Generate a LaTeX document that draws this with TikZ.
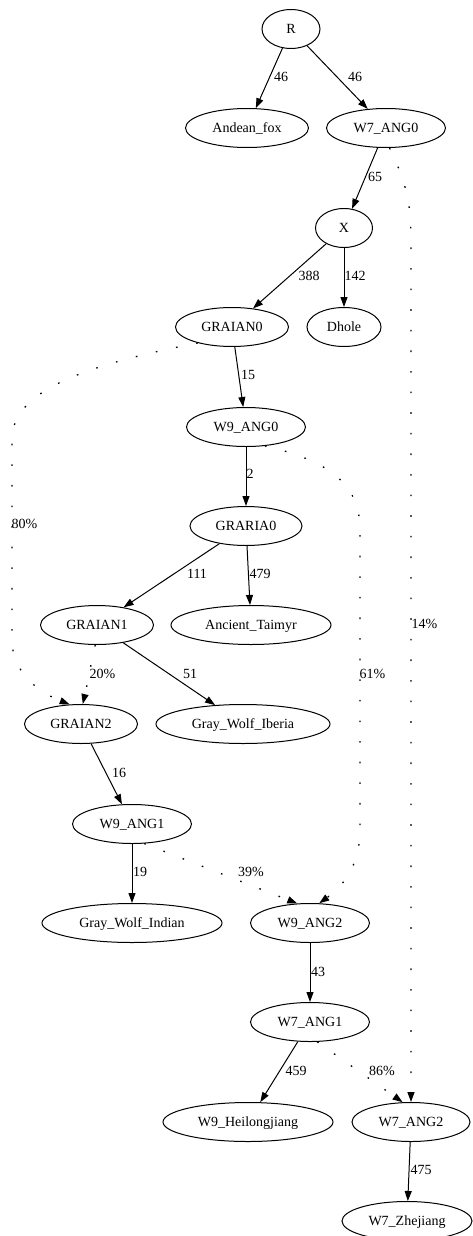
\documentclass[tikz,border=0pt]{standalone}
\usepackage{fontspec}
\setmainfont{Liberation Serif}
\usetikzlibrary{shapes.geometric,arrows.meta}
\begin{document}
\begin{tikzpicture}[x=1pt,y=-1pt,
  nd/.style={ellipse,draw,line width=1pt,inner sep=0pt,minimum height=39pt,
    font=\fontsize{14}{16}\selectfont,text height=9.3pt,text depth=0pt},
  edge/.style={line width=1pt,-{Triangle[length=10pt,width=7pt]}},
  dotedge/.style={edge,line width=1.3pt,dash pattern=on 1.6pt off 19pt},
  lbl/.style={inner sep=0pt,font=\fontsize{14}{16}\selectfont,text height=9.3pt,text depth=0pt}]
\useasboundingbox (0,0) rectangle (473,1236);
% nodes
\node[nd,minimum width=58pt]  (R)   at (291,29)  {R};
\node[nd,minimum width=123pt] (AF)  at (247,128) {Andean\_fox};
\node[nd,minimum width=119pt] (W7A0) at (386,128) {W7\_ANG0};
\node[nd,minimum width=57pt]  (X)   at (344,228) {X};
\node[nd,minimum width=113pt] (GI0) at (232,327) {GRAIAN0};
\node[nd,minimum width=74pt]  (DH)  at (344,327) {Dhole};
\node[nd,minimum width=119pt] (W9A0) at (246,427) {W9\_ANG0};
\node[nd,minimum width=112pt] (GR0) at (246,526) {GRARIA0};
\node[nd,minimum width=113pt] (GI1) at (97,625)  {GRAIAN1};
\node[nd,minimum width=160pt] (AT)  at (251,625) {Ancient\_Taimyr};
\node[nd,minimum width=113pt] (GI2) at (81,724)  {GRAIAN2};
\node[nd,minimum width=174pt] (GWB) at (243,724) {Gray\_Wolf\_Iberia};
\node[nd,minimum width=119pt] (W9A1) at (132,824) {W9\_ANG1};
\node[nd,minimum width=180pt] (GWI) at (132,923) {Gray\_Wolf\_Indian};
\node[nd,minimum width=119pt] (W9A2) at (310,923) {W9\_ANG2};
\node[nd,minimum width=119pt] (W7A1) at (310,1022) {W7\_ANG1};
\node[nd,minimum width=170pt] (W9H) at (248,1122) {W9\_Heilongjiang};
\node[nd,minimum width=118pt] (W7A2) at (411,1122) {W7\_ANG2};
\node[nd,minimum width=130pt] (W7Z) at (407,1221) {W7\_Zhejiang};
% solid edges
\draw[edge] (R) -- (AF) node[lbl] at (281,77) {46};
\draw[edge] (R) -- (W7A0) node[lbl] at (355,77) {46};
\draw[edge] (W7A0) -- (X) node[lbl] at (375,177) {65};
\draw[edge] (X) -- (GI0) node[lbl] at (309,276) {388};
\draw[edge] (X) -- (DH) node[lbl] at (355,276) {142};
\draw[edge] (GI0) -- (W9A0) node[lbl] at (248,375) {15};
\draw[edge] (W9A0) -- (GR0) node[lbl] at (250,474) {2};
\draw[edge] (GR0) -- (GI1) node[lbl] at (197,574) {111};
\draw[edge] (GR0) -- (AT) node[lbl] at (260,574) {479};
\draw[edge] (GI1) -- (GWB) node[lbl] at (190,674) {51};
\draw[edge] (GI2) -- (W9A1) node[lbl] at (119,773) {16};
\draw[edge] (W9A1) -- (GWI) node[lbl] at (140,872) {19};
\draw[edge] (W9A2) -- (W7A1) node[lbl] at (318,972) {43};
\draw[edge] (W7A1) -- (W9H) node[lbl] at (296,1071) {459};
\draw[edge] (W7A2) -- (W7Z) node[lbl] at (421,1170) {475};
% dotted edges
\draw[dotedge] (GI0.205) .. controls (70,368) and (12,395) .. (12,440) -- (12,640)
  .. controls (12,672) and (38,692) .. (GI2.120) node[lbl,anchor=west] at (11,524) {80\%};
\draw[dotedge] (GI1.265) .. controls (90,668) and (87,686) .. (GI2.85)
  node[lbl,anchor=west] at (89,674) {20\%};
\draw[dotedge] (W9A0.-45) .. controls (335,462) and (360,488) .. (360,530) -- (360,830)
  .. controls (360,862) and (346,884) .. (W9A2.65) node[lbl,anchor=west] at (359,674) {61\%};
\draw[dotedge] (W9A1.-58) -- (W9A2.123) node[lbl] at (251,872) {39\%};
\draw[dotedge] (W7A0.-80) .. controls (405,180) and (411,200) .. (411,240) -- (W7A2.north)
  node[lbl,anchor=west] at (411,624) {14\%};
\draw[dotedge] (W7A1.-70) -- (W7A2.113) node[lbl] at (382,1071) {86\%};
\end{tikzpicture}
\end{document}
